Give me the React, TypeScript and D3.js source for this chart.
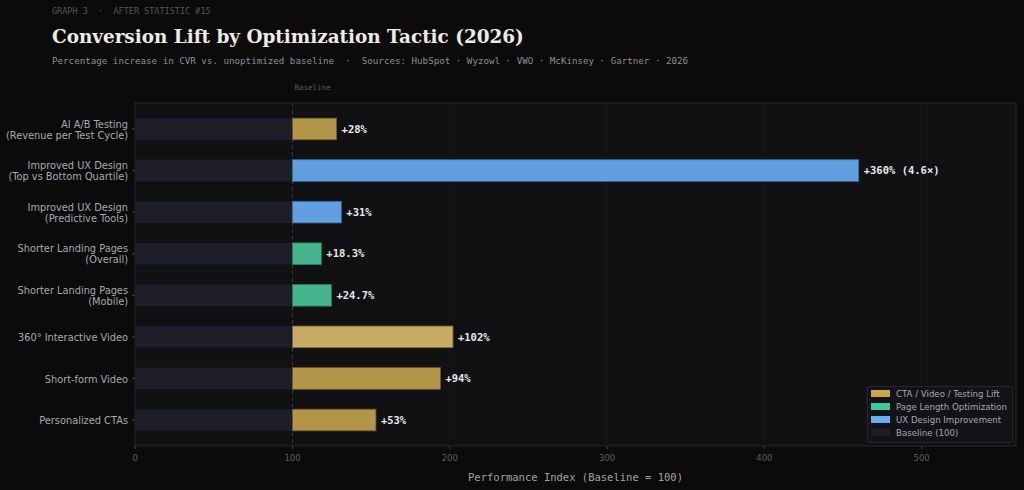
import React from "react";
import * as d3 from "d3";

const categories = [
  "AI A/B Testing\n(Revenue per Test Cycle)",
  "Improved UX Design\n(Top vs Bottom Quartile)",
  "Improved UX Design\n(Predictive Tools)",
  "Shorter Landing Pages\n(Overall)",
  "Shorter Landing Pages\n(Mobile)",
  "360° Interactive Video",
  "Short-form Video",
  "Personalized CTAs",
];
const values = [128, 460, 131, 118.3, 124.7, 202, 194, 153];
const valueLabels = ["+28%", "+360% (4.6×)", "+31%", "+18.3%", "+24.7%", "+102%", "+94%", "+53%"];
const groups = ["cta", "ux", "ux", "page", "page", "ctaHi", "cta", "cta"];
const baselineValue = 100;
const xTicks = [0, 100, 200, 300, 400, 500];
const legendItems = [
  { key: "ctaL", label: "CTA / Video / Testing Lift" },
  { key: "pageL", label: "Page Length Optimization" },
  { key: "uxL", label: "UX Design Improvement" },
  { key: "base", label: "Baseline (100)" },
];

const fills: Record<string, string> = {
  cta: "#b3954a",
  ctaHi: "#c8aa62",
  ux: "#629fe0",
  page: "#45b48f",
  ctaL: "#c9a84c",
  pageL: "#3ec99a",
  uxL: "#6aadf5",
  base: "#1e1e28",
};
const strokes: Record<string, string> = {
  cta: "#6e5c2e",
  ctaHi: "#7a6838",
  ux: "#3d6a9c",
  page: "#2c7a60",
};

const W = 1024;
const H = 490;
const plot = { left: 135, right: 1016, top: 103, bottom: 446 };
const mono = "'DejaVu Sans Mono', monospace";
const sans = "'DejaVu Sans', sans-serif";

export default function App() {
  const x = d3.scaleLinear().domain([0, 560]).range([plot.left + 0.3, plot.right]);
  const y = d3.scaleLinear().domain([-0.625, 7.625]).range([plot.top, plot.bottom]);
  const barH = (y(1) - y(0)) * 0.52;

  return (
    <svg
      width={W}
      height={H}
      style={{ position: "absolute", left: 0, top: 0, background: "#0b0b0b" }}
    >
      <rect x={0} y={0} width={W} height={H} fill="#0b0b0b" />
      <text x={52} y={14} fill="#56565c" fontFamily={mono} fontSize={8.5} style={{ whiteSpace: "pre" }}>
        {"GRAPH 3  ·  AFTER STATISTIC #15"}
      </text>
      <text x={52} y={43} fill="#ecebe4" fontFamily="'DejaVu Serif', serif" fontWeight="bold" fontSize={18.4}>
        Conversion Lift by Optimization Tactic (2026)
      </text>
      <text x={52} y={64} fill="#8e8e94" fontFamily={mono} fontSize={9.2} style={{ whiteSpace: "pre" }}>
        {"Percentage increase in CVR vs. unoptimized baseline  ·  Sources: HubSpot · Wyzowl · VWO · McKinsey · Gartner · 2026"}
      </text>

      <rect
        x={plot.left}
        y={plot.top}
        width={plot.right - plot.left}
        height={plot.bottom - plot.top}
        fill="#111114"
        stroke="#26262e"
        strokeWidth={1}
      />
      {xTicks.filter((t) => t !== 0 && t !== baselineValue).map((t) => (
        <line key={t} x1={x(t)} x2={x(t)} y1={plot.top} y2={plot.bottom} stroke="#17171b" strokeWidth={1} />
      ))}

      {categories.map((c, i) => (
        <rect
          key={"b" + i}
          x={x(0)}
          y={y(i) - barH / 2}
          width={x(baselineValue) - x(0)}
          height={barH}
          fill={fills.base}
        />
      ))}

      <line
        x1={x(baselineValue)}
        x2={x(baselineValue)}
        y1={plot.top}
        y2={plot.bottom}
        stroke="#3a3a44"
        strokeDasharray="4,3"
        strokeWidth={1}
      />
      <text x={x(baselineValue) + 2} y={90} fill="#58585e" fontFamily={mono} fontSize={7.5}>
        Baseline
      </text>

      {values.map((v, i) => (
        <g key={"v" + i}>
          <rect
            x={x(baselineValue)}
            y={y(i) - barH / 2}
            width={x(v) - x(baselineValue)}
            height={barH}
            fill={fills[groups[i]]}
            stroke={strokes[groups[i]]}
            strokeWidth={0.8}
          />
          <text
            x={x(v) + 5}
            y={y(i)}
            dy="0.35em"
            fill="#e8e8e8"
            fontFamily={mono}
            fontWeight="bold"
            fontSize={10.5}
          >
            {valueLabels[i]}
          </text>
        </g>
      ))}

      {categories.map((c, i) => {
        const lines = c.split("\n");
        const lh = 11;
        const y0 = y(i) - ((lines.length - 1) * lh) / 2;
        return (
          <g key={"l" + i}>
            <line x1={plot.left - 3} x2={plot.left} y1={y(i)} y2={y(i)} stroke="#444" />
            <text textAnchor="end" fill="#a9a9ad" fontFamily={sans} fontSize={9.8}>
              {lines.map((l, k) => (
                <tspan key={k} x={plot.left - 7} y={y0 + k * lh + 0.8} dy="0.35em">
                  {l}
                </tspan>
              ))}
            </text>
          </g>
        );
      })}

      {xTicks.map((t) => (
        <g key={"t" + t}>
          <line x1={x(t)} x2={x(t)} y1={plot.bottom} y2={plot.bottom + 3} stroke="#44444c" />
          <text x={x(t)} y={461} textAnchor="middle" fill="#5e5e64" fontFamily={sans} fontSize={8.5}>
            {t}
          </text>
        </g>
      ))}
      <text x={575.5} y={481} textAnchor="middle" fill="#a3a3a8" fontFamily={mono} fontSize={10.5}>
        Performance Index (Baseline = 100)
      </text>

      <rect x={867.5} y={386.5} width={145} height={56} rx={2} fill="#131317" stroke="#26262e" />
      {legendItems.map((it, k) => (
        <g key={it.key}>
          <rect x={871} y={390 + k * 13} width={19} height={7} fill={fills[it.key]} />
          <text x={896} y={393.5 + k * 13} dy="0.35em" fill="#a7a7ab" fontFamily={sans} fontSize={8.6}>
            {it.label}
          </text>
        </g>
      ))}
    </svg>
  );
}
